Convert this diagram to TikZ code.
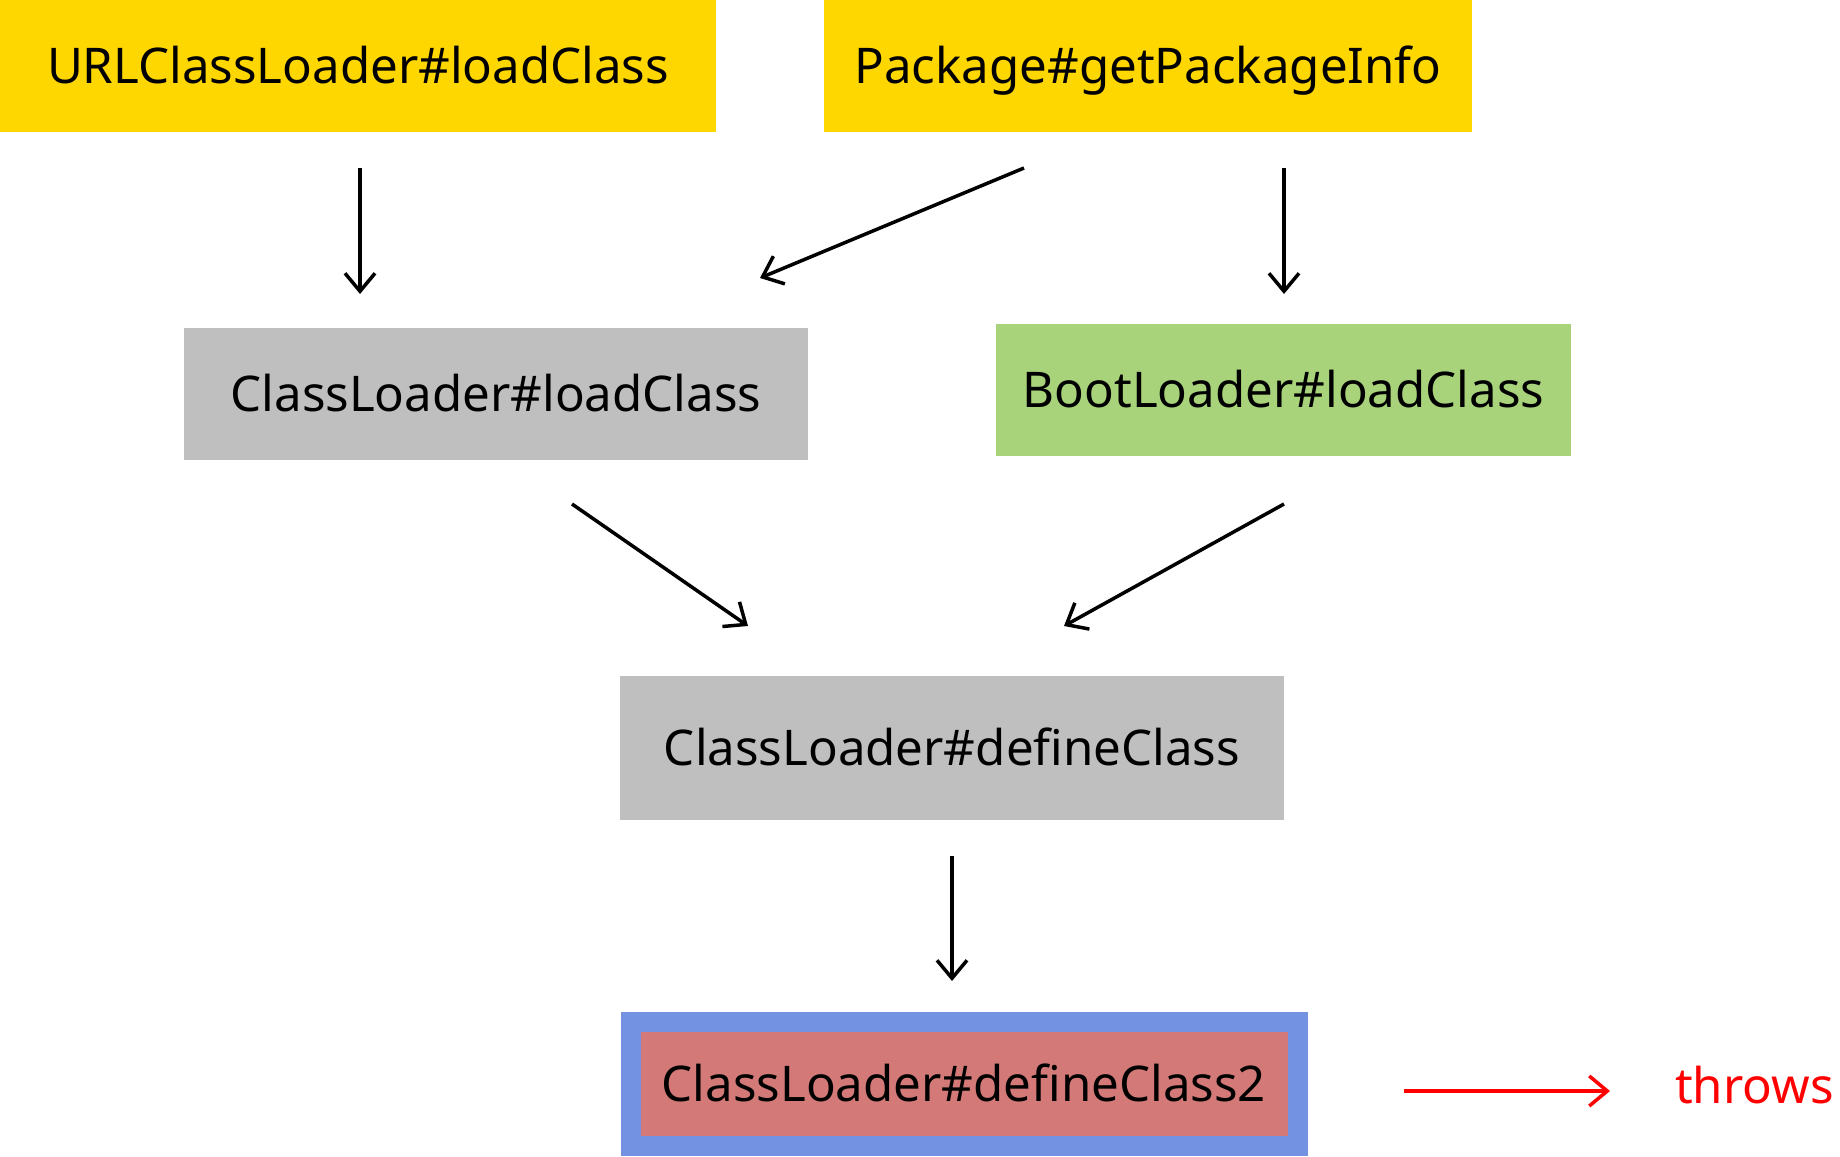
\documentclass[tikz,border=0pt]{standalone}
\usepackage{fontspec}
\setmainfont{Noto Sans}
\usetikzlibrary{arrows.meta}
\definecolor{callyellow}{RGB}{255,215,0}
\definecolor{callgray}{RGB}{191,191,191}
\definecolor{bootgreen}{RGB}{168,211,123}
\definecolor{edgeblue}{RGB}{115,147,226}
\definecolor{failred}{RGB}{211,122,120}
\begin{document}
\begin{tikzpicture}[x=0.5pt,y=-0.5pt,
	box/.style={inner sep=0pt, minimum height=66pt, text height=17.5pt, text depth=0pt, font=\fontsize{24.6}{29}\selectfont},
	call/.style={-{Straight Barb[length=9pt,width=15pt]}, line width=1.75pt}]

		\useasboundingbox (0,0) rectangle (1840,1156);

		\node[box, fill=callyellow, minimum width=358pt] (url) at (358,66) {URLClassLoader\#loadClass};
		\node[box, fill=callyellow, minimum width=324pt] (pkg) at (1148,66) {Package\#getPackageInfo};
		\node[box, fill=callgray, minimum width=312pt] (cll) at (496,394) {ClassLoader\#loadClass};
		\node[box, fill=bootgreen, minimum width=287.5pt] (boot) at (1283.5,390) {BootLoader\#loadClass};
		\node[box, fill=callgray, minimum width=332pt, minimum height=72pt] (def) at (952,748) {ClassLoader\#defineClass};
		\node[box, fill=failred, draw=edgeblue, line width=10pt, minimum width=333.5pt, minimum height=62pt] (def2) at (964,1084) {ClassLoader\#defineClass2};
		\node[anchor=base east, inner sep=0pt, text=red, font=\fontsize{24.6}{29}\selectfont] (throws) at (1834,1103) {throws};

		% arrow ends
		\coordinate (a1s) at (360,168);  \coordinate (a1e) at (360,294);
		\coordinate (a2s) at (1024,168); \coordinate (a2e) at (760,278);
		\coordinate (a3s) at (1284,168); \coordinate (a3e) at (1284,294);
		\coordinate (a4s) at (572,504);  \coordinate (a4e) at (748,626);
		\coordinate (a5s) at (1284,504); \coordinate (a5e) at (1064,626);
		\coordinate (a6s) at (952,856);  \coordinate (a6e) at (952,981);
		\coordinate (a7e) at (1610,1091);

		\draw[call] (a1s)--(a1e);
		\draw[call] (a2s)--(a2e);
		\draw[call] (a3s)--(a3e);
		\draw[call] (a4s)--(a4e);
		\draw[call] (a5s)--(a5e);
		\draw[call] (a6s)--(a6e);
		\draw[call, red, shorten <=48pt] (def2.east |- a7e)--(a7e);

	\end{tikzpicture}
\end{document}
